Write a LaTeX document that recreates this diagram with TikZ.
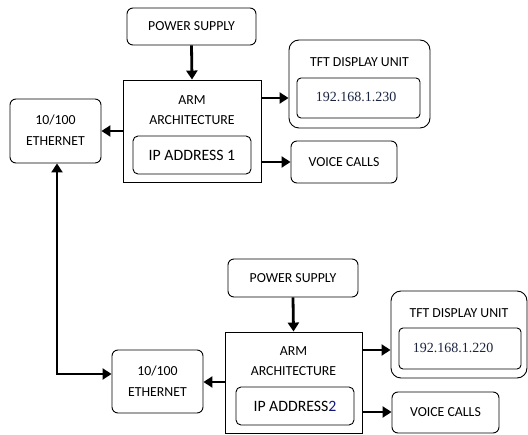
\documentclass[tikz,border=0pt]{standalone}
\usepackage{fontspec}
\setmainfont{Carlito}
\newfontfamily\ipfont{Liberation Serif}
\usetikzlibrary{arrows.meta}
\definecolor{ipcol}{HTML}{1A2440}
\begin{document}
\begin{tikzpicture}[x=1pt,y=-1pt,
  rbox/.style={draw,rounded corners=6pt,line width=0.9pt,inner sep=0pt},
  sbox/.style={draw,line width=0.9pt,inner sep=0pt},
  lbl/.style={font=\fontsize{13.8}{16}\selectfont,align=center},
  arr/.style={line width=2.8pt,-{Triangle[length=9pt,width=11pt]}},
  darr/.style={line width=2.8pt,{Triangle[length=9pt,width=11pt]}-{Triangle[length=9pt,width=11pt]}}]
\useasboundingbox (0,0) rectangle (528,435);
% ---------- top group ----------
\node[rbox,minimum width=129pt,minimum height=37pt] (ps1) at (191.5,26.5) {};
\node[lbl] at (ps1) {POWER SUPPLY};
\node[sbox,minimum width=138pt,minimum height=102pt] (arm1) at (192,131) {};
\node[lbl] (armt1) at (192,100) {ARM};
\node[lbl] at (192,120) {ARCHITECTURE};
\node[rbox,rounded corners=5pt,minimum width=118pt,minimum height=38pt] (ip1) at (192,155) {};
\node[font=\fontsize{15.8}{18}\selectfont] at (ip1) {IP ADDRESS 1};
\node[rbox,minimum width=91pt,minimum height=64pt] (eth1) at (55.5,131) {};
\node[lbl] at (55.5,120) {10/100};
\node[lbl] at (55.5,141) {ETHERNET};
\node[rbox,rounded corners=10pt,minimum width=141pt,minimum height=88pt] (tft1) at (359.5,84) {};
\node[lbl] at (359.5,62) {TFT DISPLAY UNIT};
\node[rbox,rounded corners=4pt,minimum width=123pt,minimum height=40pt] (ipv1) at (358.5,98) {};
\node[font=\fontsize{14}{16}\ipfont\selectfont,text=ipcol] at (356,97) {192.168.1.230};
\node[rbox,minimum width=106pt,minimum height=42pt] (vc1) at (344,162) {};
\node[lbl] at (vc1) {VOICE CALLS};
\draw[arr] (ps1.south) -- (arm1.north);
\draw[arr] (arm1.west |- 0,131) -- (eth1.east |- 0,131);
\draw[arr] (arm1.east |- 0,98) -- (tft1.west |- 0,98);
\draw[arr] (arm1.east |- 0,162) -- (vc1.west);
% ---------- bottom group ----------
\node[rbox,minimum width=130pt,minimum height=38pt] (ps2) at (293,278) {};
\node[lbl] at (ps2) {POWER SUPPLY};
\node[sbox,minimum width=137pt,minimum height=101pt] (arm2) at (293.5,382.5) {};
\node[lbl] at (293.5,351) {ARM};
\node[lbl] at (293.5,371) {ARCHITECTURE};
\node[rbox,rounded corners=5pt,minimum width=118pt,minimum height=38pt] (ip2) at (295,406) {};
\node[font=\fontsize{15.8}{18}\selectfont] at (ip2) {IP ADDRESS{\color{ipcol!70!blue}2}};
\node[rbox,minimum width=91pt,minimum height=63pt] (eth2) at (157.5,381.5) {};
\node[lbl] at (157.5,371) {10/100};
\node[lbl] at (157.5,392) {ETHERNET};
\node[rbox,rounded corners=10pt,minimum width=136pt,minimum height=87pt] (tft2) at (459,334.5) {};
\node[lbl] at (459,313) {TFT DISPLAY UNIT};
\node[rbox,rounded corners=4pt,minimum width=122pt,minimum height=41pt] (ipv2) at (460,348.5) {};
\node[font=\fontsize{14}{16}\ipfont\selectfont,text=ipcol] at (453,348) {192.168.1.220};
\node[rbox,minimum width=107pt,minimum height=41pt] (vc2) at (445.5,412.5) {};
\node[lbl] at (vc2) {VOICE CALLS};
\draw[arr] (ps2.south) -- (arm2.north);
\draw[arr] (arm2.west |- 0,382) -- (eth2.east |- 0,382);
\draw[arr] (arm2.east |- 0,350) -- (tft2.west |- 0,350);
\draw[arr] (arm2.east |- 0,412) -- (vc2.west |- 0,412);
% ---------- link between ethernets ----------
\coordinate (bend) at (57,374);
\draw[darr] (eth1.south -| bend) -- (bend) -- (eth2.west |- bend);
\end{tikzpicture}
\end{document}
